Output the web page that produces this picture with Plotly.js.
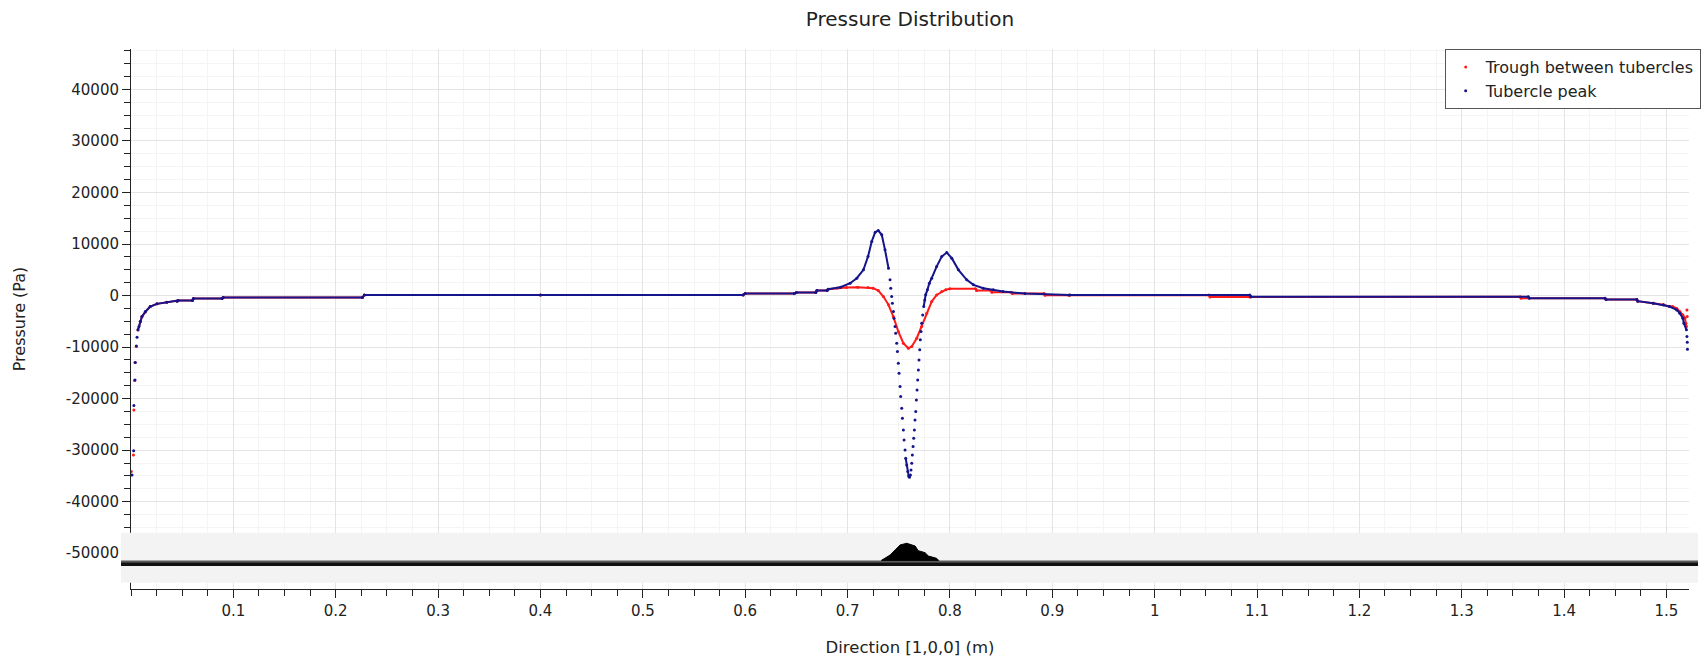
<!DOCTYPE html>
<html>
<head>
<meta charset="utf-8">
<script src="https://cdn.plot.ly/plotly-3.0.1.min.js"></script>
<style>
  html, body { margin: 0; padding: 0; background: #ffffff; }
  #chart { width: 1707px; height: 660px; }
</style>
</head>
<body>
<div id="chart"></div>
<script>
// ---- Data ----
const troughName = "Trough between tubercles";
const peakName = "Tubercle peak";

const troughX = [0.0003, 0.0024, 0.0028, 0.0035, 0.0039, 0.0052, 0.0068, 0.0091, 0.0107, 0.014, 0.0188, 0.0254, 0.035, 0.045, 0.046, 0.060, 0.061, 0.089, 0.090, 0.226, 0.228, 0.40, 0.598, 0.600, 0.648, 0.650, 0.669, 0.670, 0.680, 0.681, 0.690, 0.699, 0.710, 0.720, 0.725, 0.730, 0.735, 0.740, 0.7447, 0.7496, 0.7545, 0.7594, 0.7627, 0.7676, 0.7724, 0.7773, 0.7822, 0.787, 0.792, 0.796, 0.800, 0.825, 0.826, 0.840, 0.841, 0.860, 0.861, 0.892, 0.893, 0.916, 0.917, 1.053, 1.054, 1.093, 1.094, 1.357, 1.358, 1.440, 1.441, 1.471, 1.472, 1.487, 1.497, 1.503, 1.506, 1.510, 1.513, 1.516, 1.518, 1.519, 1.5195, 1.5200, 1.5202];
const troughY = [-34170, -30930, -22190, -16500, -13000, -9900, -6700, -5050, -4080, -3200, -2140, -1610, -1290, -1100, -970, -970, -580, -580, -390, -390, 130, 130, 130, 390, 390, 580, 580, 970, 970, 1240, 1450, 1560, 1600, 1560, 1430, 970, -190, -1800, -4080, -6990, -9250, -10220, -9900, -8280, -6020, -3420, -1170, 130, 780, 1150, 1300, 1300, 970, 970, 650, 650, 390, 390, 70, 70, 130, 130, -300, -300, -250, -250, -510, -510, -770, -770, -1090, -1480, -1800, -2130, -2130, -2500, -3100, -3750, -4400, -5360, -6020, -2780, -4080];

const peakX = [0.001, 0.0026, 0.0028, 0.0039, 0.0042, 0.0052, 0.0059, 0.0068, 0.0078, 0.0091, 0.0107, 0.014, 0.0188, 0.0254, 0.035, 0.045, 0.046, 0.060, 0.061, 0.089, 0.090, 0.226, 0.228, 0.40, 0.598, 0.600, 0.648, 0.650, 0.669, 0.670, 0.680, 0.681, 0.693, 0.7025, 0.709, 0.7155, 0.720, 0.7236, 0.727, 0.730, 0.7334, 0.7366, 0.740, 0.7415,
  0.7422, 0.7431, 0.7438, 0.7448, 0.7454, 0.7464, 0.7470, 0.7480, 0.7487, 0.7496, 0.7503, 0.7513, 0.7519, 0.7529, 0.7536, 0.7545, 0.7552, 0.7562, 0.7568, 0.7578, 0.7588, 0.7597, 0.7604,
  0.7614, 0.7620, 0.7627, 0.7633, 0.7640, 0.7646, 0.7653, 0.7659, 0.7666, 0.7672, 0.7679, 0.7685, 0.7692, 0.7698, 0.7705, 0.7711, 0.7718, 0.7724, 0.7734, 0.7744, 0.7754, 0.7763, 0.7780, 0.7799,
  0.7822, 0.787, 0.792, 0.7969, 0.8018, 0.8083, 0.8164, 0.823, 0.8326, 0.8424, 0.852, 0.8733, 0.917, 1.093, 1.094, 1.365, 1.366, 1.440, 1.441, 1.471, 1.472, 1.487, 1.497, 1.503, 1.510, 1.513, 1.516, 1.517, 1.5195, 1.5200, 1.5203, 1.5205];
const peakY = [-34810, -30100, -21360, -16370, -13010, -9770, -8080, -6660, -6020, -5050, -4080, -3110, -2140, -1610, -1290, -1100, -970, -970, -580, -580, -390, -390, 130, 130, 130, 390, 390, 580, 580, 970, 970, 1240, 1630, 2400, 3370, 4990, 7570, 10490, 12300, 12620, 11790, 8870, 5320, 3050,
  1430, -190, -1480, -3100, -4400, -6010, -7310, -9250, -10870, -13130, -15070, -17660, -19600, -21870, -23810, -26080, -28020, -29960, -31580, -32870, -34170, -35010, -35270,
  -34820, -33850, -32550, -30930, -29310, -27700, -26080, -24140, -22520, -20250, -18310, -16370, -14430, -12490, -10540, -8600, -6980, -5370, -3750, -2130, -840, 140, 1110, 2400,
  3370, 5630, 7570, 8350, 7260, 4990, 3050, 2080, 1430, 1110, 780, 390, 130, 130, -250, -250, -510, -510, -770, -770, -1090, -1480, -1800, -2130, -2780, -3420, -4400, -5360, -6660, -7960, -9050, -10410];

// Geometry silhouette shown in the strip under the curves (x in m, y on pressure axis)
const geomX = [0.733, 0.7415, 0.7464, 0.7513, 0.7578, 0.766, 0.769, 0.7757, 0.779, 0.787, 0.789];
const geomY = [-51400, -50370, -49400, -48400, -48080, -48600, -49510, -49900, -50550, -51000, -51400];

const xTickVals = [0.1, 0.2, 0.3, 0.4, 0.5, 0.6, 0.7, 0.8, 0.9, 1.0, 1.1, 1.2, 1.3, 1.4, 1.5];
const xTickText = ["0.1", "0.2", "0.3", "0.4", "0.5", "0.6", "0.7", "0.8", "0.9", "1", "1.1", "1.2", "1.3", "1.4", "1.5"];
const yTickVals = [-50000, -40000, -30000, -20000, -10000, 0, 10000, 20000, 30000, 40000];
const yTickText = ["-50000", "-40000", "-30000", "-20000", "-10000", "0", "10000", "20000", "30000", "40000"];

// ---- Build helper traces ----
const FONT = "DejaVu Sans, Verdana, sans-serif";
const RED = "#ff1a1a";
const BLUE = "#14148c";

// Dense parts look like a continuous line; very steep parts show separate dots.
function connectGentle(xs, ys, maxSlope) {
  const ox = [], oy = [];
  for (let i = 0; i < xs.length; i++) {
    if (i > 0) {
      const dx = Math.abs(xs[i] - xs[i - 1]);
      const dy = Math.abs(ys[i] - ys[i - 1]);
      if (dx === 0 || dy / dx > maxSlope) { ox.push(null); oy.push(null); }
    }
    ox.push(xs[i]); oy.push(ys[i]);
  }
  return { x: ox, y: oy };
}

const troughLine = connectGentle(troughX, troughY, 1.5e6);
const peakLine = connectGentle(peakX, peakY, 1.5e6);

const traces = [
  { x: troughLine.x, y: troughLine.y, mode: "lines", line: { color: RED, width: 2 },
    connectgaps: false, showlegend: false, hoverinfo: "skip", type: "scatter" },
  { x: troughX, y: troughY, mode: "markers", name: troughName,
    marker: { color: RED, size: 3 }, type: "scatter" },
  { x: peakLine.x, y: peakLine.y, mode: "lines", line: { color: BLUE, width: 2 },
    connectgaps: false, showlegend: false, hoverinfo: "skip", type: "scatter" },
  { x: peakX, y: peakY, mode: "markers", name: peakName,
    marker: { color: BLUE, size: 3 }, type: "scatter" }
];

let humpPath = "";
for (let i = 0; i < geomX.length; i++) {
  humpPath += (i === 0 ? "M " : " L ") + geomX[i] + "," + geomY[i];
}
humpPath += " Z";

const shapes = [
  { type: "rect", xref: "paper", yref: "y", x0: -0.0064, x1: 1.0058, y0: -55730, y1: -46020,
    fillcolor: "#f3f3f3", line: { width: 0 }, layer: "above" },
  { type: "rect", xref: "paper", yref: "y", x0: -0.0064, x1: 1.0058, y0: -51780, y1: -51400,
    fillcolor: "#5a5a5a", line: { width: 0 }, layer: "above" },
  { type: "rect", xref: "paper", yref: "y", x0: -0.0064, x1: 1.0058, y0: -52480, y1: -51780,
    fillcolor: "#111111", line: { width: 0 }, layer: "above" },
  { type: "path", xref: "x", yref: "y", path: humpPath,
    fillcolor: "#000000", line: { color: "#000000", width: 1 }, layer: "above" }
];

const layout = {
  width: 1707, height: 660,
  paper_bgcolor: "#ffffff", plot_bgcolor: "#ffffff",
  margin: { l: 131, r: 18, t: 49, b: 71, pad: 0, autoexpand: false },
  font: { family: FONT, size: 15, color: "#222222" },
  title: { text: "Pressure Distribution", font: { family: FONT, size: 20, color: "#222222" },
           x: 0.5, xref: "paper", xanchor: "center", y: 0.971, yref: "container", yanchor: "middle" },
  xaxis: {
    range: [0, 1.522], autorange: false,
    tickmode: "array", tickvals: xTickVals, ticktext: xTickText,
    ticks: "outside", ticklen: 8, tickcolor: "#222222", tickwidth: 1,
    showline: true, linecolor: "#222222", linewidth: 1,
    showgrid: true, gridcolor: "#e4e4e4", gridwidth: 1, zeroline: false,
    tickfont: { family: FONT, size: 15, color: "#222222" },
    minor: { tickmode: "linear", tick0: 0, dtick: 0.025, ticks: "outside", ticklen: 6,
             tickcolor: "#222222", showgrid: true, gridcolor: "#f4f4f4", gridwidth: 1 },
    title: { text: "Direction [1,0,0] (m)", font: { family: FONT, size: 16.5, color: "#222222" }, standoff: 22 }
  },
  yaxis: {
    range: [-56950, 47850], autorange: false,
    tickmode: "array", tickvals: yTickVals, ticktext: yTickText,
    ticks: "outside", ticklen: 8, tickcolor: "#222222", tickwidth: 1,
    showline: true, linecolor: "#222222", linewidth: 1,
    showgrid: true, gridcolor: "#e4e4e4", gridwidth: 1, zeroline: false,
    tickfont: { family: FONT, size: 15, color: "#222222" },
    minor: { tickmode: "linear", tick0: 0, dtick: 2500, ticks: "outside", ticklen: 6,
             tickcolor: "#222222", showgrid: true, gridcolor: "#f4f4f4", gridwidth: 1 },
    title: { text: "Pressure (Pa)", font: { family: FONT, size: 16, color: "#222222" }, standoff: 36 }
  },
  legend: {
    x: 1.0075, xanchor: "right", y: 1.0, yanchor: "top",
    bgcolor: "#ffffff", bordercolor: "#555555", borderwidth: 1,
    font: { family: FONT, size: 16, color: "#222222" }
  },
  shapes: shapes,
  showlegend: true
};

Plotly.newPlot("chart", traces, layout, { displayModeBar: false, staticPlot: true });
</script>
</body>
</html>
